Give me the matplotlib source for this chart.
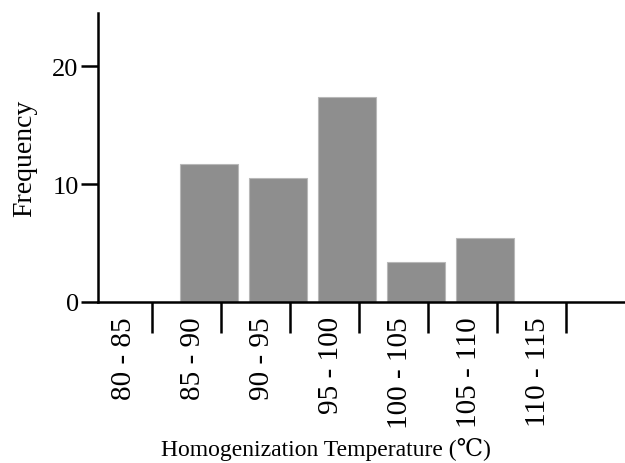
import matplotlib.pyplot as plt
import numpy as np

# temperature bins and counts
bins = ['80 - 85', '85 - 90', '90 - 95', '95 - 100', '100 - 105', '105 - 110', '110 - 115']
freq = [0, 11.7, 10.5, 17.4, 3.4, 5.4, 0]

plt.rcParams['font.family'] = ['Liberation Serif', 'DejaVu Serif']

fig = plt.figure(figsize=(6.25, 4.64), dpi=100)
ax = fig.add_axes([0.157, 0.347, 0.843, 0.623])

x = np.arange(len(bins))
ax.bar(x + 0.33, freq, width=0.84, color='#8e8e8e', edgecolor='#b8b8b8', linewidth=0.8, zorder=2)

ax.set_xlim(-0.28, 7.36)
ax.set_ylim(0, 24.5)

# category labels in the middle, separators between categories
ax.set_xticks(x + 0.1)
ax.set_xticklabels(bins, rotation=90, fontsize=21, va='top', ha='center')
ax.set_xticks(np.arange(len(bins)) + 0.5, minor=True)
ax.tick_params(axis='x', which='major', length=0, pad=10)
ax.tick_params(axis='x', which='minor', length=22, width=1.8, direction='out', color='black')

ax.set_yticks([0, 10, 20])
ax.tick_params(axis='y', length=12, width=1.8, labelsize=19, pad=2)

for s in ['top', 'right']:
    ax.spines[s].set_visible(False)
for s in ['left', 'bottom']:
    ax.spines[s].set_linewidth(1.8)

ax.set_ylabel('Frequency', fontsize=20, labelpad=11)
ax.set_xlabel('Homogenization Temperature (℃)', fontsize=17, labelpad=7, x=0.433)

plt.savefig('out.png', dpi=100)
